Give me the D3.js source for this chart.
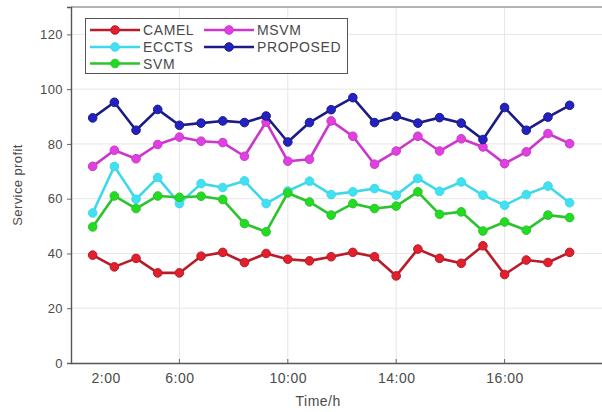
<!DOCTYPE html>
<html>
<head>
<meta charset="utf-8">
<script src="https://cdn.jsdelivr.net/npm/d3@7/dist/d3.min.js"></script>
<style>
  html, body { margin: 0; padding: 0; background: #fff; }
  svg { display: block; font-family: "Liberation Sans", Arial, sans-serif; }
</style>
</head>
<body>
<svg id="chart" width="602" height="412"></svg>
<script>
// Hourly sample index (1..23) on the x axis
const steps = d3.range(1, 24);

// Service profit per method
const camel    = [39.4, 35.1, 38.2, 32.9, 32.9, 39.0, 40.4, 36.7, 40.0, 37.9, 37.3, 38.8, 40.4, 38.8, 31.8, 41.6, 38.2, 36.4, 42.8, 32.3, 37.6, 36.7, 40.4];
const eccts    = [54.8, 71.8, 59.8, 67.7, 58.2, 65.5, 64.1, 66.5, 58.2, 62.8, 66.4, 61.5, 62.5, 63.7, 61.3, 67.4, 62.7, 66.1, 61.3, 57.6, 61.5, 64.6, 58.5];
const svm      = [49.7, 61.0, 56.4, 61.0, 60.5, 60.9, 59.7, 50.9, 47.9, 62.1, 58.8, 54.0, 58.2, 56.4, 57.3, 62.5, 54.3, 55.2, 48.2, 51.5, 48.5, 54.0, 53.1];
const msvm     = [71.8, 77.7, 74.6, 79.8, 82.5, 81.0, 80.5, 75.5, 88.0, 73.7, 74.4, 88.4, 82.8, 72.6, 77.4, 82.8, 77.4, 81.9, 78.9, 72.8, 77.1, 83.8, 80.1];
const proposed = [89.5, 95.2, 85.0, 92.6, 86.8, 87.6, 88.4, 87.8, 90.2, 80.7, 87.8, 92.5, 96.9, 87.8, 90.1, 87.6, 89.6, 87.6, 81.6, 93.3, 85.0, 89.8, 94.1];

const seriesNames = ["CAMEL", "ECCTS", "SVM", "MSVM", "PROPOSED"];
const seriesValues = [camel, eccts, svm, msvm, proposed];

// Axis ticks
const yTicks = [0, 20, 40, 60, 80, 100, 120];
const xGridTicks = [5, 10, 15, 20];
const xTickPos = [1.6, 5, 10, 15, 20];
const xTickLabels = ["2:00", "6:00", "10:00", "14:00", "16:00"];

const colors = {
  CAMEL:    { line: "#b81c28", fill: "#e21f2b" },
  ECCTS:    { line: "#3fd8ea", fill: "#40e2f2" },
  SVM:      { line: "#2cc42c", fill: "#22dc22" },
  MSVM:     { line: "#cc36cc", fill: "#e040e0" },
  PROPOSED: { line: "#1c1c86", fill: "#2222c4" }
};

const svg = d3.select("#chart");
const x = d3.scaleLinear().domain([0, 25]).range([71, 613]);
const y = d3.scaleLinear().domain([0, 130]).range([363, 7]);

const plot = svg.append("g");

// grid
plot.append("g").selectAll("line").data(yTicks.slice(1)).join("line")
  .attr("x1", x(0)).attr("x2", x(25))
  .attr("y1", d => y(d)).attr("y2", d => y(d))
  .attr("stroke", "#e6e6e6").attr("stroke-width", 1);
plot.append("g").selectAll("line").data(xGridTicks).join("line")
  .attr("x1", d => x(d)).attr("x2", d => x(d))
  .attr("y1", y(0)).attr("y2", y(130))
  .attr("stroke", "#e6e6e6").attr("stroke-width", 1);

// frame
plot.append("line").attr("x1", x(0)).attr("x2", x(25)).attr("y1", y(130)).attr("y2", y(130))
  .attr("stroke", "#6a6a6a").attr("stroke-width", 1);

// y axis
const yAxis = d3.axisLeft(y).tickValues(yTicks).tickSize(4).tickPadding(4).tickFormat(d3.format("d"));
const gy = svg.append("g").attr("transform", `translate(${x(0)},0)`).call(yAxis);
gy.select(".domain").attr("stroke", "#555").attr("stroke-width", 1.4);
gy.selectAll(".tick line").attr("stroke", "#666");
gy.selectAll(".tick text").attr("fill", "#4a4a4a").style("font-size", "13px").style("letter-spacing", "0.4px");

// x axis
const xAxis = d3.axisBottom(x).tickValues(xTickPos).tickSize(0).tickPadding(10)
  .tickFormat((d, i) => xTickLabels[i]);
const gx = svg.append("g").attr("transform", `translate(0,${y(0)})`).call(xAxis);
gx.select(".domain").attr("stroke", "#555").attr("stroke-width", 1.4);
gx.selectAll(".tick text").attr("fill", "#4a4a4a").style("font-size", "14px").style("letter-spacing", "0.5px");
// short inward tick marks at the gridded positions
svg.append("g").selectAll("line").data(xGridTicks).join("line")
  .attr("x1", d => x(d)).attr("x2", d => x(d))
  .attr("y1", y(0)).attr("y2", y(0) - 4)
  .attr("stroke", "#666");

// labels
svg.append("text").attr("x", x(11.4)).attr("y", 406).attr("text-anchor", "middle")
  .attr("fill", "#4a4a4a").style("font-size", "14px").style("letter-spacing", "0.5px").text("Time/h");
svg.append("text").attr("transform", `translate(22,${y(65)}) rotate(-90)`).attr("text-anchor", "middle")
  .attr("fill", "#4a4a4a").style("font-size", "13px").style("letter-spacing", "0.4px").text("Service profit");

// series
const line = d3.line().x((d, i) => x(steps[i])).y(d => y(d));
seriesNames.forEach((name, k) => {
  const vals = seriesValues[k];
  const g = plot.append("g");
  g.append("path").datum(vals).attr("d", line)
    .attr("fill", "none").attr("stroke", colors[name].line).attr("stroke-width", 2.6)
    .attr("stroke-linejoin", "round");
  g.selectAll("circle").data(vals).join("circle")
    .attr("cx", (d, i) => x(steps[i])).attr("cy", d => y(d)).attr("r", 4.3)
    .attr("fill", colors[name].fill).attr("stroke", colors[name].line).attr("stroke-width", 1);
});

// legend
const legend = svg.append("g");
legend.append("rect").attr("x", 85.5).attr("y", 18.5).attr("width", 262).attr("height", 55)
  .attr("fill", "#fff").attr("stroke", "#555").attr("stroke-width", 1);
const legendCols = [90, 204];
const legendRows = [30, 47, 63.5];
const legendOrder = [["CAMEL", 0, 0], ["ECCTS", 0, 1], ["SVM", 0, 2], ["MSVM", 1, 0], ["PROPOSED", 1, 1]];
legendOrder.forEach(([name, c, r]) => {
  const lx = legendCols[c], ly = legendRows[r];
  legend.append("line").attr("x1", lx).attr("x2", lx + 50).attr("y1", ly).attr("y2", ly)
    .attr("stroke", colors[name].line).attr("stroke-width", 2.6);
  legend.append("circle").attr("cx", lx + 25).attr("cy", ly).attr("r", 4.3)
    .attr("fill", colors[name].fill).attr("stroke", colors[name].line);
  legend.append("text").attr("x", lx + 53).attr("y", ly + 5).attr("fill", "#4a4a4a")
    .style("font-size", "14px").style("letter-spacing", "0.6px").text(name);
});
</script>
</body>
</html>
